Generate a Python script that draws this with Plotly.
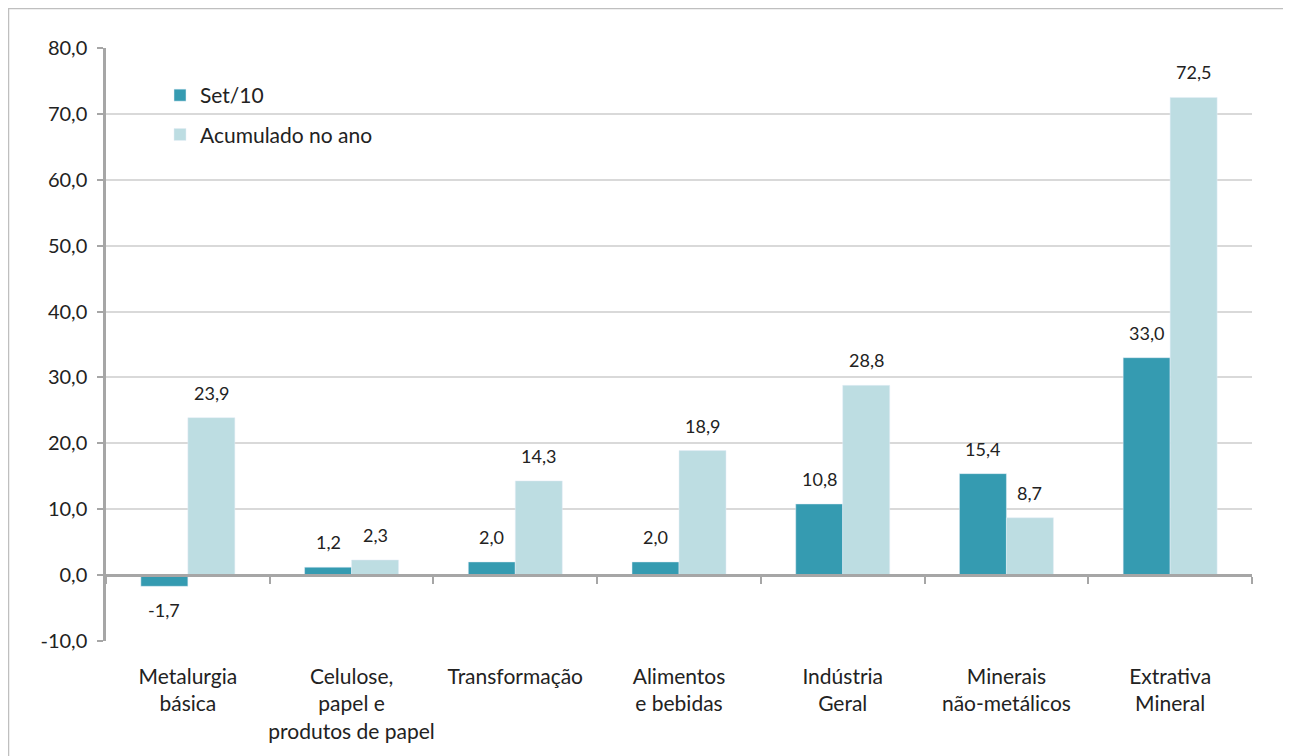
import plotly.graph_objects as go

categories = ["Metalurgia<br>básica", "Celulose,<br>papel e<br>produtos de papel", "Transformação",
              "Alimentos<br>e bebidas", "Indústria<br>Geral", "Minerais<br>não-metálicos", "Extrativa<br>Mineral"]
set10 = [-1.7, 1.2, 2.0, 2.0, 10.8, 15.4, 33.0]
acumulado = [23.9, 2.3, 14.3, 18.9, 28.8, 8.7, 72.5]
yticks = [-10, 0, 10, 20, 30, 40, 50, 60, 70, 80]
series_names = ["Set/10", "Acumulado no ano"]
series_colors = ["#359BB1", "#BDDDE2"]

def fmt(v):
    return f"{v:.1f}".replace(".", ",")

FONT = "Lato"
OFF = 8  # page body margin
W, H = 1291 - OFF, 756 - OFF
ML, MR, MT, MB = 106 - OFF, 39, 48 - OFF, 115
PW, PH = W - ML - MR, H - MT - MB
BARGAP = 0.426

def px_x(p):  # reference page px -> paper
    return (p - OFF - ML) / PW

def px_y(p):
    return (H - MB - (p - OFF)) / PH

n = len(categories)
fig = go.Figure()
for name, vals, col, grp in zip(series_names, [set10, acumulado], series_colors, ["a", "b"]):
    fig.add_trace(go.Bar(name=name, x=categories, y=vals, marker_color=col, legendgroup=grp))
# helper invisible trace on the zero-line axis
fig.add_trace(go.Scatter(x=[-0.5, n - 0.5], y=[0, 0], xaxis="x2", mode="lines",
                         line=dict(width=0), showlegend=False, hoverinfo="skip"))

# value labels
bar_px = PW / n * (1 - BARGAP) / 2
annotations = []
for k, vals in enumerate([set10, acumulado]):
    shift = (k - 0.5) * bar_px
    for c, v in zip(categories, vals):
        annotations.append(dict(
            x=c, y=v, xref="x", yref="y", text=fmt(v), showarrow=False,
            xshift=shift, yshift=12 if v >= 0 else -11,
            yanchor="bottom" if v >= 0 else "top",
            font=dict(size=18, family=FONT, color="#222")))

fig.update_layout(
    width=W, height=H,
    margin=dict(l=ML, r=MR, t=MT, b=MB),
    paper_bgcolor="white", plot_bgcolor="white",
    barmode="group", bargap=BARGAP, bargroupgap=0,
    font=dict(family=FONT, size=18, color="#222"),
    legend=dict(x=px_x(160), y=px_y(75), xanchor="left", yanchor="top",
                font=dict(size=21, family=FONT, color="#222"), bgcolor="rgba(0,0,0,0)",
                traceorder="grouped", tracegroupgap=9, itemwidth=30),
    xaxis=dict(type="category", showgrid=False, showline=False, ticks="",
               tickfont=dict(size=21, family=FONT, color="#222"), ticklabelstandoff=21,
               range=[-0.5, n - 0.5]),
    xaxis2=dict(overlaying="x", anchor="free", position=10 / 90, range=[-0.5, n - 0.5],
                showline=True, linecolor="#A6A6A6", linewidth=2.5, showgrid=False,
                ticks="outside", ticklen=7, tickwidth=2, tickcolor="#A6A6A6",
                tickvals=[i - 0.5 for i in range(n + 1)], showticklabels=False, zeroline=False),
    yaxis=dict(range=[-10, 80], tickvals=yticks, ticktext=[fmt(v) for v in yticks],
               showgrid=True, gridcolor="#D9D9D9", gridwidth=1.5, zeroline=False, showline=True,
               linecolor="#A6A6A6", linewidth=2.5, ticks="outside", ticklen=6, tickwidth=2,
               tickcolor="#A6A6A6", tickfont=dict(size=20, family=FONT, color="#222"),
               ticklabelstandoff=6),
    annotations=annotations,
    shapes=[
        dict(type="line", xref="paper", yref="paper", x0=px_x(OFF), x1=px_x(1300),
             y0=px_y(OFF + 0.5), y1=px_y(OFF + 0.5), line=dict(color="#BFBFBF", width=1.5)),
        dict(type="line", xref="paper", yref="paper", x0=px_x(OFF + 0.5), x1=px_x(OFF + 0.5),
             y0=px_y(OFF), y1=px_y(770), line=dict(color="#BFBFBF", width=1.5)),
    ],
)

fig.write_html("out.html")
